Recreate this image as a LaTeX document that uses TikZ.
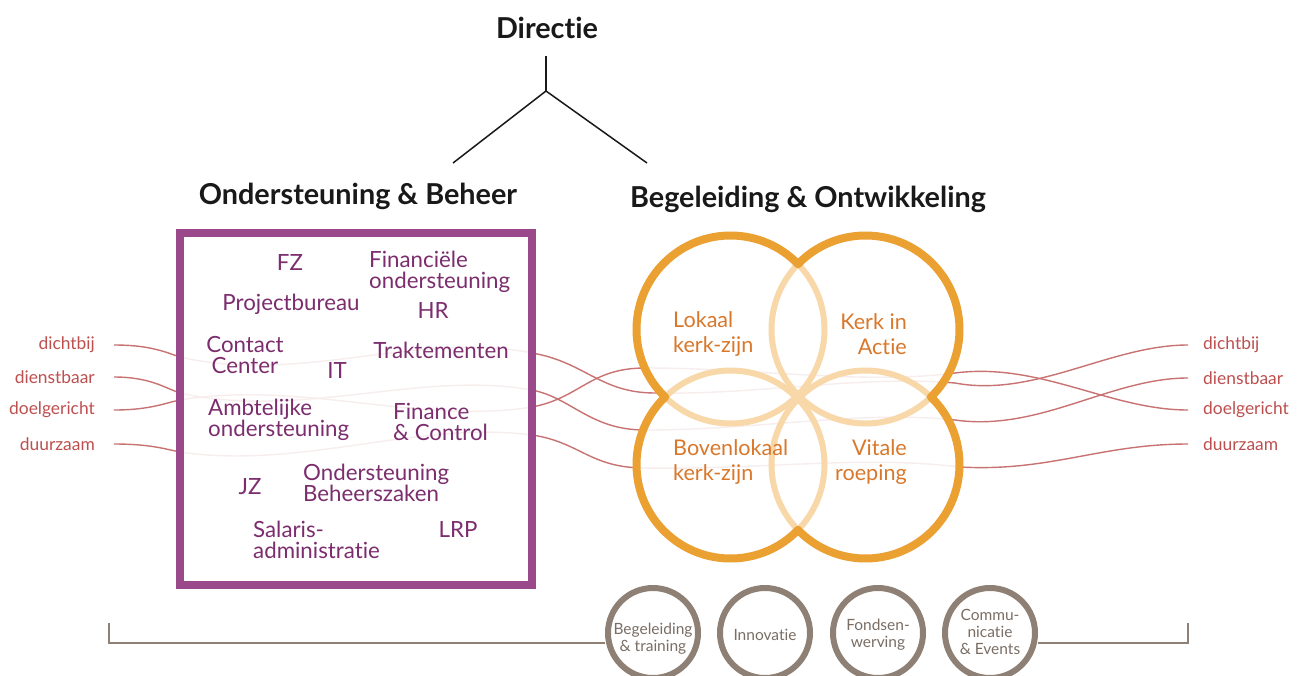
\documentclass[tikz,border=0pt]{standalone}
\usepackage{fontspec}
\setmainfont{Lato}[Ligatures=NoCommon]
\definecolor{purplebox}{HTML}{9A4A8B}
\definecolor{purpletxt}{HTML}{7C2D6E}
\definecolor{orangedark}{HTML}{EBA032}
\definecolor{orangelight}{HTML}{F8D8A8}
\definecolor{orangetxt}{HTML}{D9782B}
\definecolor{greyring}{HTML}{8E8074}
\definecolor{greytxt}{HTML}{7A6E65}
\definecolor{threadcol}{HTML}{C97272}
\definecolor{labelcol}{HTML}{BE4F4F}
\tikzset{
  heading/.style={font=\bfseries\fontsize{28.8}{32}\selectfont, text=black!90, inner sep=0},
  boxtxt/.style={font=\fontsize{22.3}{21}\selectfont, text=purpletxt, inner sep=0},
  circtxt/.style={font=\fontsize{21.6}{25}\selectfont, text=orangetxt, inner sep=0},
  ringtxt/.style={font=\fontsize{15.5}{17}\selectfont, text=greytxt, inner sep=0, align=center},
  sidelabel/.style={font=\fontsize{17.4}{18}\selectfont, text=labelcol, inner sep=0},
  thread/.style={draw=threadcol, line width=1.4pt},
  ring/.style={draw=greyring, line width=6pt},
  treeline/.style={draw=black!90, line width=1.5pt},
}
\begin{document}
\begin{tikzpicture}[x=1pt,y=-1pt]
\useasboundingbox (0,0) rectangle (1304,675);
\clip (0,0) rectangle (1304,675);
\fill[white] (0,0) rectangle (1304,675);

% headings and tree
\node[heading] (dir) at (547,28) {Directie};
\node[heading] (ob) at (358,196) {Ondersteuning \& Beheer};
\node[heading] (bo) at (808,199) {Begeleiding \& Ontwikkeling};
\coordinate (ttop) at (546,56);
\coordinate (tjoin) at (546,91);
\coordinate (tleft) at (453,163);
\coordinate (tright) at (647,163);
\draw[treeline] (ttop) -- (tjoin);
\draw[treeline] (tleft) -- (tjoin) -- (tright);

% side labels
\node[sidelabel, anchor=east] (l1) at (95,345) {dichtbij};
\node[sidelabel, anchor=east] (l2) at (95,377) {dienstbaar};
\node[sidelabel, anchor=east] (l3) at (95,410) {doelgericht};
\node[sidelabel, anchor=east] (l4) at (95,444) {duurzaam};
\node[sidelabel, anchor=west] (r1) at (1203,345) {dichtbij};
\node[sidelabel, anchor=west] (r2) at (1203,378) {dienstbaar};
\node[sidelabel, anchor=west] (r3) at (1203,410) {doelgericht};
\node[sidelabel, anchor=west] (r4) at (1203,444) {duurzaam};

% threads
\draw[thread] (114,345) .. controls (150,345) and (165,352) .. (180,357)
  .. controls (300,385) and (420,330) .. (532,353)
  .. controls (585,362) and (600,393) .. (655,393)
  .. controls (760,395) and (860,375) .. (955,383)
  .. controls (1035,398) and (1110,345) .. (1188,345);
\draw[thread] (114,377) .. controls (150,377) and (165,388) .. (180,393)
  .. controls (300,420) and (420,370) .. (532,390)
  .. controls (572,398) and (590,430) .. (645,430)
  .. controls (760,430) and (860,410) .. (955,420)
  .. controls (1040,432) and (1110,378) .. (1188,378);
\draw[thread] (114,410) .. controls (150,410) and (165,403) .. (180,400)
  .. controls (300,380) and (420,425) .. (532,407)
  .. controls (580,398) and (590,368) .. (645,368)
  .. controls (760,368) and (860,385) .. (955,373)
  .. controls (1040,362) and (1110,410) .. (1188,410);
\draw[thread] (114,444) .. controls (150,444) and (165,449) .. (180,452)
  .. controls (300,470) and (420,420) .. (532,435)
  .. controls (580,442) and (590,468) .. (645,468)
  .. controls (760,470) and (860,455) .. (960,467)
  .. controls (1050,472) and (1100,444) .. (1188,444);

% fade threads inside box and circles
\fill[white, opacity=0.88] (184,237) rectangle (528,581);
\fill[white, opacity=0.88] (730.5,329.5) circle[radius=94] (865.5,329.5) circle[radius=94]
  (730.5,464.5) circle[radius=94] (865.5,464.5) circle[radius=94];

% purple box
\draw[draw=purplebox, line width=8pt] (180,233) rectangle (532,585);

% four circles
\coordinate (cTL) at (730.5,329.5);
\coordinate (cTR) at (865.5,329.5);
\coordinate (cBL) at (730.5,464.5);
\coordinate (cBR) at (865.5,464.5);
\foreach \c in {cTL,cTR,cBL,cBR} \draw[orangelight, line width=6pt] (\c) circle[radius=94];
\draw[orangedark, line width=8pt, line cap=round]
  ([shift={(-44.1:94)}]cTL) arc[start angle=-44.1, end angle=-225.9, radius=94];
\draw[orangedark, line width=8pt, line cap=round]
  ([shift={(-135.9:94)}]cTR) arc[start angle=-135.9, end angle=45.9, radius=94];
\draw[orangedark, line width=8pt, line cap=round]
  ([shift={(44.1:94)}]cBL) arc[start angle=44.1, end angle=225.9, radius=94];
\draw[orangedark, line width=8pt, line cap=round]
  ([shift={(-45.9:94)}]cBR) arc[start angle=-45.9, end angle=135.9, radius=94];

% box texts
\node[boxtxt] (fz) at (290,263) {FZ};
\node[boxtxt, anchor=west, align=left] (fin) at (369,272) {Financiële\\ondersteuning};
\node[boxtxt] (pb) at (291,304) {Projectbureau};
\node[boxtxt] (hr) at (433,311) {HR};
\node[boxtxt, align=center] (cc) at (245,355) {Contact\\Center};
\node[boxtxt] (it) at (337,371) {IT};
\node[boxtxt] (tr) at (441,350) {Traktementen};
\node[boxtxt, anchor=west, align=left] (amb) at (208,420) {Ambtelijke\\ondersteuning};
\node[boxtxt, anchor=west, align=left] (fc) at (393,422) {Finance\\\& Control};
\node[boxtxt] (jz) at (250,487) {JZ};
\node[boxtxt, anchor=west, align=left] (obz) at (303,483) {Ondersteuning\\Beheerszaken};
\node[boxtxt, anchor=west, align=left] (sal) at (253,540) {Salaris-\\administratie};
\node[boxtxt] (lrp) at (458,530) {LRP};

% circle texts
\node[circtxt, anchor=west, align=left] (lok) at (673,334) {Lokaal\\kerk-zijn};
\node[circtxt, anchor=east, align=right] (kia) at (907,334) {Kerk in\\Actie};
\node[circtxt, anchor=west, align=left] (bov) at (673,462) {Bovenlokaal\\kerk-zijn};
\node[circtxt, anchor=east, align=right] (vit) at (907,462) {Vitale\\roeping};

% bottom rings
\node[ring, circle, minimum size=90pt] (g1) at (653,633) {};
\node[ring, circle, minimum size=90pt] (g2) at (765,633) {};
\node[ring, circle, minimum size=90pt] (g3) at (878,633) {};
\node[ring, circle, minimum size=90pt] (g4) at (990,633) {};
\node[ringtxt] at (653,639) {Begeleiding\\\& training};
\node[ringtxt] at (765,635) {Innovatie};
\node[ringtxt] at (878,635) {Fondsen-\\werving};
\node[ringtxt] at (990,632) {Commu-\\nicatie\\\& Events};

% bracket
\coordinate (bl1) at (109,623);
\coordinate (bl2) at (109,643);
\coordinate (br1) at (1188,623);
\coordinate (br2) at (1188,643);
\draw[greyring, line width=1.5pt] (bl1) -- (bl2) -- (g1.west |- bl2);
\draw[greyring, line width=1.5pt] (g4.east |- br2) -- (br2) -- (br1);
\end{tikzpicture}
\end{document}
